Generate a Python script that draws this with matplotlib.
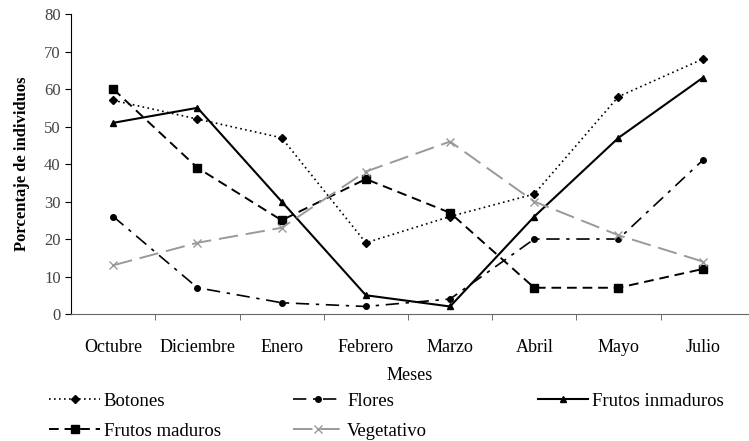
import numpy as np
import matplotlib.pyplot as plt

plt.rcParams['font.family'] = ['Liberation Serif', 'DejaVu Serif']

meses = ['Octubre', 'Diciembre', 'Enero', 'Febrero', 'Marzo', 'Abril', 'Mayo', 'Julio']
botones = [57, 52, 47, 19, 26, 32, 58, 68]
flores = [26, 7, 3, 2, 4, 20, 20, 41]
frutos_inmaduros = [51, 55, 30, 5, 2, 26, 47, 63]
frutos_maduros = [60, 39, 25, 36, 27, 7, 7, 12]
vegetativo = [13, 19, 23, 38, 46, 30, 21, 14]

fig = plt.figure(figsize=(7.49, 4.41), dpi=100)
ax = fig.add_axes([0.095, 0.288, 0.905, 0.68])
x = np.arange(len(meses))

l1, = ax.plot(x, botones, color='black', ls=(0, (1, 2)), lw=1.2, marker='D', ms=4, label='Botones')
l2, = ax.plot(x, flores, color='black', ls=(0, (8, 4, 2, 4)), lw=1.2, marker='o', ms=4, label='Flores')
l3, = ax.plot(x, frutos_inmaduros, color='black', ls='-', lw=1.5, marker='^', ms=5, label='Frutos inmaduros')
l4, = ax.plot(x, frutos_maduros, color='black', ls=(0, (5, 3)), lw=1.4, marker='s', ms=6, label='Frutos maduros')
l5, = ax.plot(x, vegetativo, color='#999999', ls=(0, (10, 4)), lw=1.4, marker='x', ms=6, label='Vegetativo')

ax.set_xlim(-0.5, len(meses) - 0.5 + 0.05)
ax.set_ylim(0, 80)
ax.set_yticks(range(0, 81, 10))
ax.set_xticks(x)
ax.set_xticklabels(meses, fontsize=13)
ax.set_xticks(np.arange(0.5, len(meses) - 0.5, 1), minor=True)
ax.tick_params(axis='x', which='major', length=0, pad=18)
ax.tick_params(axis='x', which='minor', length=4, direction='out', color='#555555')
ax.tick_params(axis='y', labelsize=12, labelcolor='#444444', length=4)
ax.spines['top'].set_visible(False)
ax.spines['right'].set_visible(False)
ax.spines['bottom'].set_color('#666666')

ax.set_xlabel('Meses', fontsize=13, labelpad=8)
ax.set_ylabel('Porcentaje de individuos', fontsize=12, fontweight='bold', labelpad=10)

# legend laid out in three columns like the original
cols = [([l1, l4], ['Botones', 'Frutos maduros'], 0.066),
        ([l2, l5], ['Flores', 'Vegetativo'], 0.391),
        ([l3], ['Frutos inmaduros'], 0.718)]
for hs, labs, xpos in cols:
    fig.legend(hs, labs, loc='upper left', bbox_to_anchor=(xpos, 0.11), frameon=False,
               fontsize=13.5, handlelength=2.7, handletextpad=0.2, labelspacing=0.7,
               borderpad=0, borderaxespad=0)

fig.savefig('out.png', dpi=100)
